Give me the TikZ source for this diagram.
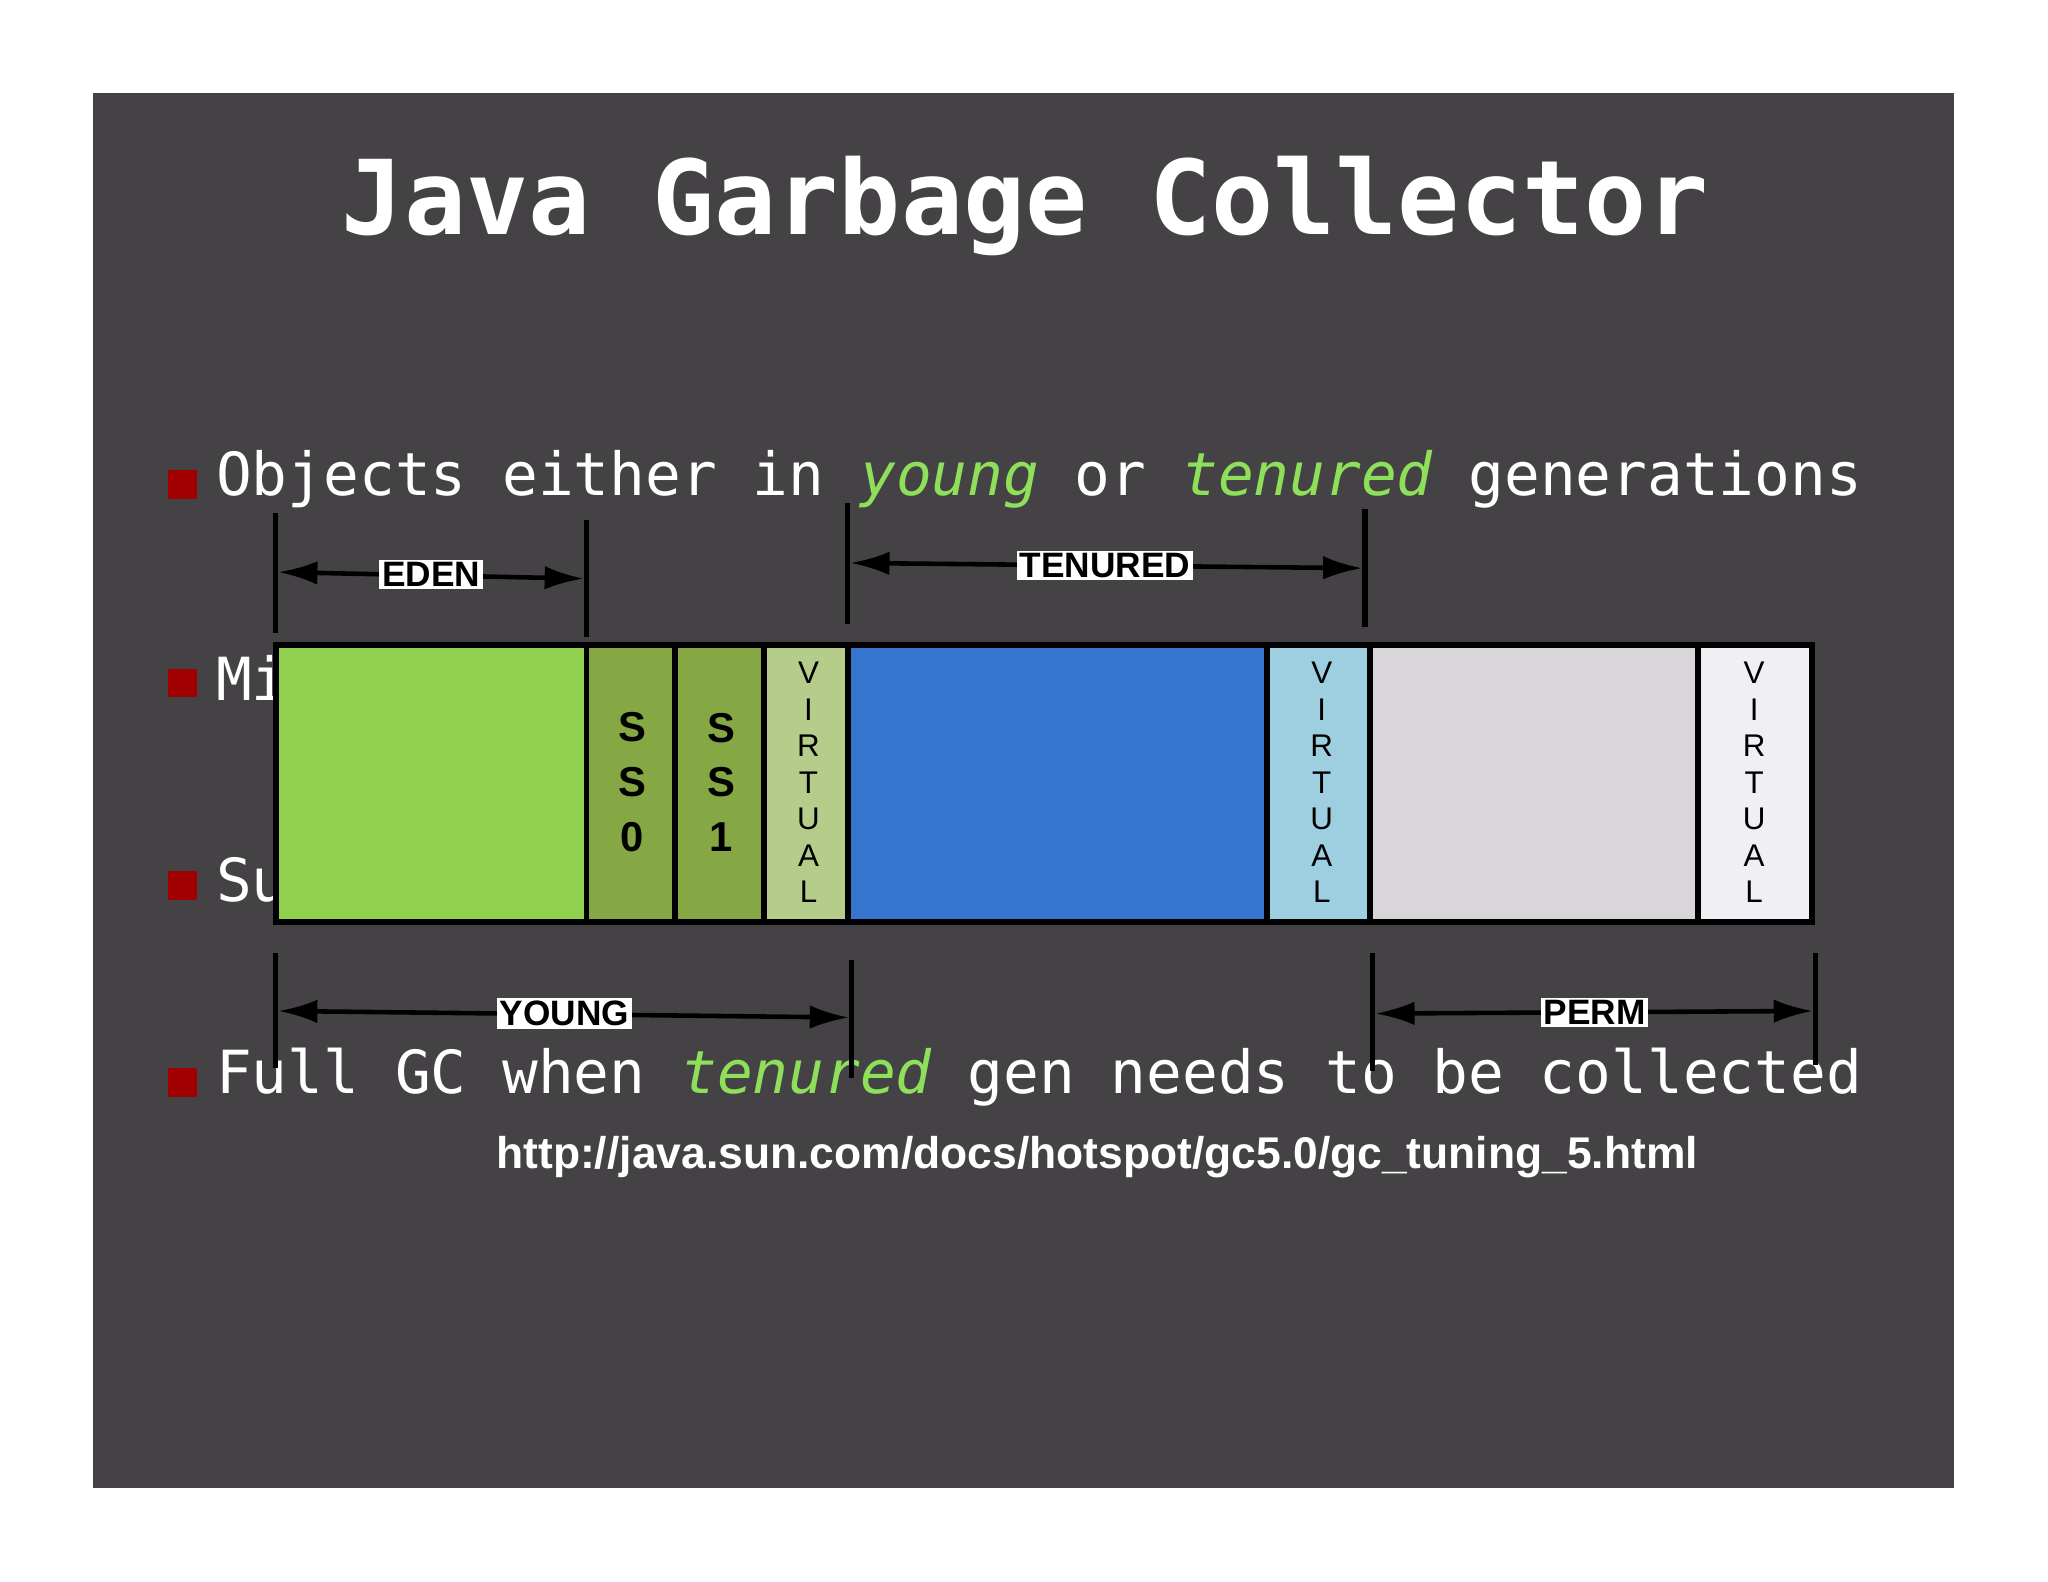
\documentclass[tikz,border=0pt]{standalone}
\usepackage{fontspec}
\setmainfont{Liberation Sans}
\newfontfamily\monof{DejaVu Sans Mono}
\usetikzlibrary{arrows.meta}
\definecolor{bg}{HTML}{444244}
\definecolor{grn}{HTML}{8EE05A}
\definecolor{bul}{HTML}{A00000}
\definecolor{eden}{HTML}{92D050}
\definecolor{ss}{HTML}{86A844}
\definecolor{vy}{HTML}{B5CC8A}
\definecolor{ten}{HTML}{3574CF}
\definecolor{vt}{HTML}{9DCFE0}
\definecolor{perm}{HTML}{D8D6D8}
\definecolor{vp}{HTML}{F0EFF3}
\tikzset{
 seg/.style={draw=black,line width=4.5pt},
 tick/.style={line width=4pt},
 dim/.style={line width=3.5pt,{Latex[length=30pt,width=18pt]}-{Latex[length=30pt,width=18pt]}},
 lab/.style={fill=white,inner sep=2pt,font=\fontsize{27}{27}\selectfont\bfseries},
 bt/.style={anchor=west,text=white,font=\monof\fontsize{45.5}{45.5}\selectfont},
 bsq/.style={fill=bul,minimum size=22pt,inner sep=0pt},
 vl/.style={align=center,font=\fontsize{24}{28}\selectfont},
 sl/.style={align=center,font=\fontsize{32}{42}\selectfont\bfseries}
}
\begin{document}
\begin{tikzpicture}[x=1pt,y=-1pt]
\useasboundingbox (0,0) rectangle (1568,1211);
\fill[bg] (71,71) rectangle (1496,1139);
\node[text=white,font=\monof\fontsize{79}{79}\selectfont\bfseries] (title) at (785,158) {Java Garbage Collector};
\node[bsq] (b1) at (140,371) {};
\node[bsq] (b2) at (140,523) {};
\node[bsq] (b3) at (140,678) {};
\node[bsq] (b4) at (140,829) {};
\node[bt] (t1) at (162,367) {Objects either in \textcolor{grn}{\itshape young} or \textcolor{grn}{\itshape tenured} generations};
\node[bt] (t2) at (162,519) {Mi};
\node[bt] (t3) at (162,674) {Su};
\node[bt] (t4) at (162,825) {Full GC when \textcolor{grn}{\itshape tenured} gen needs to be collected};
\node[text=white,font=\fontsize{34}{34}\selectfont\bfseries] (url) at (840,886) {http://java.sun.com/docs/hotspot/gc5.0/gc\_tuning\_5.html};
% segments
\filldraw[seg,fill=eden] (211,494) rectangle (449,706);
\filldraw[seg,fill=ss] (449,494) rectangle (517,706);
\filldraw[seg,fill=ss] (517,494) rectangle (585,706);
\filldraw[seg,fill=vy] (585,494) rectangle (649,706);
\filldraw[seg,fill=ten] (649,494) rectangle (970,706);
\filldraw[seg,fill=vt] (970,494) rectangle (1049,706);
\filldraw[seg,fill=perm] (1049,494) rectangle (1300,706);
\filldraw[seg,fill=vp] (1300,494) rectangle (1387,706);
\node[sl] (s0) at (484,599) {S\\S\\0};
\node[sl] (s1) at (552,599) {S\\S\\1};
\node[vl] (v1) at (619,599) {V\\I\\R\\T\\U\\A\\L};
\node[vl] (v2) at (1012,599) {V\\I\\R\\T\\U\\A\\L};
\node[vl] (v3) at (1343,599) {V\\I\\R\\T\\U\\A\\L};
% dimension ticks
\draw[tick] (211,393) -- (211,485); \draw[tick] (449,398) -- (449,488);
\draw[tick] (649,385) -- (649,478); \draw[tick] (1045,390) -- (1045,480);
\draw[tick] (211,730) -- (211,818); \draw[tick] (652,735) -- (652,825);
\draw[tick] (1051,730) -- (1051,820); \draw[tick] (1390,730) -- (1390,815);
\coordinate (e1) at (213,438); \coordinate (e2) at (447,443);
\coordinate (n1) at (651,431); \coordinate (n2) at (1043,435);
\coordinate (y1) at (213,774); \coordinate (y2) at (650,779);
\coordinate (p1) at (1053,776); \coordinate (p2) at (1388,774);
\draw[dim] (e1) -- (e2); \draw[dim] (n1) -- (n2);
\draw[dim] (y1) -- (y2); \draw[dim] (p1) -- (p2);
\node[lab] (le) at (330,440) {EDEN};
\node[lab] (lt) at (846,433) {TENURED};
\node[lab] (ly) at (432,776) {YOUNG};
\node[lab] (lp) at (1221,775) {PERM};
\end{tikzpicture}
\end{document}
